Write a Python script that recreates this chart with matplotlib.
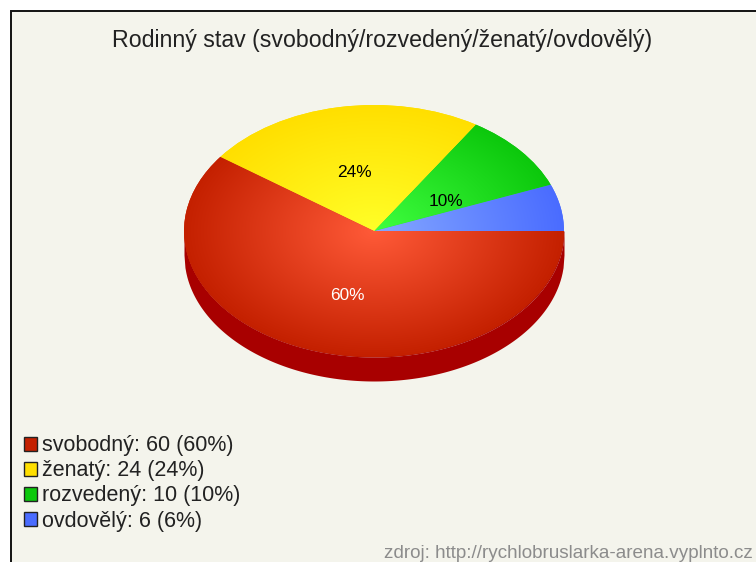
import numpy as np
import matplotlib
matplotlib.use('Agg')
import matplotlib.pyplot as plt
from matplotlib.patches import Patch, Rectangle
from matplotlib.colors import to_rgb

W, H = 756, 562
plt.rcParams['font.family'] = ['Liberation Sans', 'DejaVu Sans']

# data, in drawing order (counter clockwise from east)
names = ['ovdovělý', 'rozvedený', 'ženatý', 'svobodný']
values = [6, 10, 24, 60]
edge_cols = ['#4a6cff', '#0cc80c', '#ffdf00', '#c42000']
mid_cols = ['#85a8ff', '#40ff40', '#ffff28', '#ff5a38']
pct_cols = ['black', 'black', 'black', 'white']
# nudge of the percent labels in pixels
pct_nudge = [(0, 0), (-1, 11), (-2, 3), (3, 5)]
legend_order = [3, 2, 1, 0]
title = 'Rodinný stav (svobodný/rozvedený/ženatý/ovdovělý)'
source = 'zdroj: http://rychlobruslarka-arena.vyplnto.cz'

fig = plt.figure(figsize=(W / 100, H / 100), dpi=100, facecolor='white')

# background panel, pixel coords
bg = fig.add_axes([0, 0, 1, 1])
bg.set_xlim(0, W)
bg.set_ylim(H, 0)
bg.axis('off')
bg.add_patch(Rectangle((11, 11), W, H, facecolor='#f4f4ec', edgecolor='#111111', lw=1.4))
bg.text(382.5, 40, title, fontsize=16.7, ha='center', va='center', color='#222222')
bg.text(753, 553.5, source, fontsize=13.6, ha='right', va='center', color='#8c8c8c')

# pie axes: 184-564 wide, 105-357 tall
cx, cy, rx, ry, depth = 374, 231, 190, 126, 24
ax = fig.add_axes([(cx - rx) / W, 1 - (cy + ry) / H, 2 * rx / W, 2 * ry / H])
ax.patch.set_alpha(0)

# side of the pie
xs = np.linspace(-1, 1, 400)
front = -np.sqrt(1 - xs ** 2)
ax.fill_between(xs, front - depth / ry, front, color='#a80000', lw=0, clip_on=False)
ax.fill_between(xs, front, 0, color='#a80000', lw=0)

wedges, texts, autotexts = ax.pie(
    values, radius=1, startangle=0, center=(0, 0), pctdistance=0.5,
    autopct=lambda p: '%d%%' % round(p) if p > 7 else '',
    wedgeprops={'linewidth': 0}, textprops={'fontsize': 12.4})

# radial gradient inside each slice
yy, xx = np.mgrid[-1:1:400j, -1:1:400j]
rr = np.clip(np.sqrt(xx ** 2 + yy ** 2), 0, 1)[..., None]
for w, c0, c1 in zip(wedges, mid_cols, edge_cols):
    grad = np.array(to_rgb(c0)) * (1 - rr) + np.array(to_rgb(c1)) * rr
    im = ax.imshow(grad, extent=[-1, 1, -1, 1], origin='lower', aspect='auto', zorder=2)
    im.set_clip_path(w)
    w.set_facecolor(c1)

for t, c, (dx, dy) in zip(autotexts, pct_cols, pct_nudge):
    t.set_color(c)
    t.set_zorder(5)
    x, y = t.get_position()
    t.set_position((x + dx / rx, y - dy / ry))

ax.set_aspect('auto')
ax.set_xlim(-1, 1)
ax.set_ylim(-1, 1)
ax.axis('off')

# legend
handles = [Patch(facecolor=edge_cols[i], edgecolor='#222222', lw=1) for i in legend_order]
labels = ['%s: %d (%d%%)' % (names[i], values[i], round(100 * values[i] / sum(values))) for i in legend_order]
bg.legend(handles, labels, loc='upper left', bbox_to_anchor=(20 / W, 1 - 431 / H), frameon=False,
          fontsize=15.5, labelcolor='#222222', handlelength=0.6, handleheight=0.6,
          handletextpad=0.23, labelspacing=0.19, borderpad=0.2, borderaxespad=0)

fig.savefig('out.png', dpi=100, facecolor='white')
